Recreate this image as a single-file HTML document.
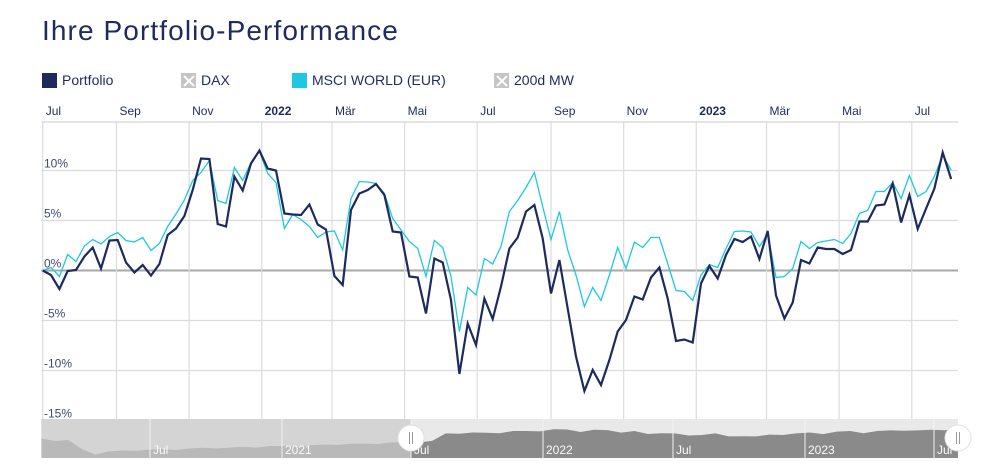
<!DOCTYPE html>
<html><head><meta charset="utf-8">
<style>
html,body{margin:0;padding:0;background:#fff;width:1000px;height:468px;overflow:hidden;font-family:"Liberation Sans",sans-serif;}
#title{position:absolute;left:42px;top:15px;font-size:28px;color:#1e2b5e;letter-spacing:1.1px;margin:0;font-weight:normal;}
.leg{position:absolute;top:72px;font-size:14px;color:#1e2b5e;display:flex;align-items:center;}
.sw{width:15px;height:15px;margin-right:5px;display:inline-block;position:relative;}
.x{background:#c5c5c5;}
.x:before,.x:after{content:"";position:absolute;left:7px;top:1px;width:2px;height:14px;background:#fff;transform:rotate(45deg);}
.x:after{transform:rotate(-45deg);}
svg{position:absolute;left:0;top:0;}
</style></head><body>
<h1 id="title">Ihre Portfolio-Performance</h1>
<div class="leg" style="left:42px"><span class="sw" style="background:#1c2a5e"></span>Portfolio</div>
<div class="leg" style="left:181px"><span class="sw x"></span>DAX</div>
<div class="leg" style="left:292px"><span class="sw" style="background:#1ec8e0"></span>MSCI WORLD (EUR)</div>
<div class="leg" style="left:494px"><span class="sw x"></span>200d MW</div>
<svg id="chart" width="1000" height="468"></svg>
<script>
const portfolio=[0.0,-0.45,-1.85,-0.05,0.05,1.4,2.3,0.2,3.0,3.05,0.8,-0.2,0.55,-0.5,0.65,3.55,4.2,5.45,8.05,11.2,11.15,4.65,4.4,9.4,8.0,10.7,12.0,10.2,10.0,
5.7,5.6,5.55,6.6,4.6,4.1,-0.55,-1.45,6.05,7.7,8.05,8.65,7.55,3.9,3.8,-0.6,-0.7,-4.3,1.2,0.8,-2.95,-10.35,-5.3,-7.45,-2.8,-4.85,-1.6,2.2,
3.3,5.9,6.55,3.2,-2.3,1.05,-3.8,-8.6,-12.05,-9.95,-11.45,-8.95,-6.1,-4.95,-2.6,-2.9,-0.7,0.3,-2.8,-7.05,-6.9,-7.2,-1.3,0.45,-0.8,1.55,3.15,
2.85,3.4,1.15,3.95,-2.5,-4.8,-3.2,1.05,0.7,2.3,2.15,2.15,1.65,2.05,4.9,4.9,6.5,6.6,8.7,4.8,7.55,4.15,6.2,8.2,11.8,9.15];
const msci=[0.0,0.3,-0.6,1.6,0.9,2.45,3.1,2.65,3.4,3.8,3.0,2.85,3.3,2.0,2.7,4.4,5.65,7.05,9.0,9.8,11.0,7.0,6.7,10.3,9.0,10.8,11.95,9.7,8.8,
4.2,5.6,5.1,4.4,3.3,3.85,3.95,2.05,7.2,8.9,8.85,8.7,7.7,5.2,4.05,2.9,2.2,-0.6,3.0,2.3,-0.6,-6.1,-1.7,-2.45,1.2,0.65,2.4,5.9,
7.0,8.3,9.8,6.4,3.1,5.9,2.05,-0.45,-3.6,-1.7,-3.0,-0.45,2.3,0.2,2.85,2.3,3.3,3.3,0.7,-2.0,-2.1,-3.0,-0.45,0.6,0.3,2.2,3.9,
3.95,3.85,2.4,3.7,-0.7,-0.6,0.2,2.9,2.2,2.8,2.95,3.1,2.7,3.7,5.7,6.0,7.9,7.9,8.8,7.2,9.5,7.4,7.9,9.4,11.55,10.05];
const yTicks=[10,5,0,-5,-10,-15];
const yTickLabels=["10%","5%","0%","-5%","-10%","-15%"];
const monthTicks=["2021-07-01","2021-09-01","2021-11-01","2022-01-01","2022-03-01","2022-05-01","2022-07-01","2022-09-01","2022-11-01","2023-01-01","2023-03-01","2023-05-01","2023-07-01"];
const monthLabels=["Jul","Sep","Nov","2022","Mär","Mai","Jul","Sep","Nov","2023","Mär","Mai","Jul"];
const navLabels=["Jul","2021","Jul","2022","Jul","2023","Jul"];
const navTickPos=[150,282,411,543,673,805,934];
const navSeries=[0.55,0.5,0.5,0.2,0.05,0.12,0.15,0.17,0.18,0.2,0.2,0.22,0.24,0.25,0.25,0.27,0.28,0.3,0.3,0.31,0.33,0.35,0.37,0.38,0.38,0.4,0.42,0.43,0.45,0.47,
0.72,0.74,0.75,0.74,0.76,0.8,0.8,0.82,0.86,0.85,0.8,0.84,0.83,0.78,0.8,0.7,0.76,0.72,0.65,0.7,0.72,0.62,0.66,0.62,0.68,0.7,0.72,0.75,0.73,0.78,0.8,0.76,0.8,0.82,0.84,0.82,0.84,0.86,0.88];

const NS="http://www.w3.org/2000/svg";
const svg=document.getElementById('chart');
const L=41.3,R=958,T=122,B=419;
const start=Date.UTC(2021,6,1);
const dayPx=1.1905;
function xDays(d){return L+1.4+d*dayPx;}
function xDate(s){return xDays((Date.parse(s+"T00:00:00Z")-start)/86400000);}
function xIdx(i){return xDays(i*7);}
function yv(v){return 270.5-v*10;}
function mk(tag,attrs){const e=document.createElementNS(NS,tag);for(const k in attrs)e.setAttribute(k,attrs[k]);svg.appendChild(e);return e;}

yTicks.forEach((v,i)=>{
  const l=mk('line',{x1:L,x2:R,y1:yv(v),y2:yv(v),stroke:v===0?'#a8a8a8':'#dcdcdc','stroke-width':v===0?2:1.2});
  
  
  const t=mk('text',{x:44,y:yv(v)-3,'font-size':12,fill:'#3d4a72'});
  t.textContent=yTickLabels[i];
  
  
});
const plotTop=mk('line',{x1:L,x2:R,y1:T,y2:T,stroke:'#dcdcdc','stroke-width':1.5});


monthTicks.forEach((d,i)=>{
  const x=xDate(d);
  const l=mk('line',{x1:x,x2:x,y1:T,y2:B,stroke:'#dcdcdc','stroke-width':1.2});
  
  
  const bold=/^\d{4}$/.test(monthLabels[i]);
  const t=mk('text',{x:x+3,y:115,'font-size':12,fill:'#1e2b5e','font-weight':bold?'bold':'normal'});
  t.textContent=monthLabels[i];
  
  
});
function line(arr,color,w,name){
  const pts=arr.map((v,i)=>xIdx(i).toFixed(1)+','+yv(v).toFixed(1)).join(' ');
  const p=mk('polyline',{points:pts,fill:'none',stroke:color,'stroke-width':w,'stroke-linejoin':'miter'});
  
  
}
line(msci,'#1ec8e0',1.3,'msci-world-line');
line(portfolio,'#1c2a5e',2.2,'portfolio-line');

const NT=419,NB=458,HX=411;
const nb1=mk('rect',{x:L,y:NT,width:HX-L,height:NB-NT,fill:'#d4d4d4'});


const nb2=mk('rect',{x:HX,y:NT,width:R-HX,height:NB-NT,fill:'#e9e9e9'});


function navX(i){return L+i*(R-L)/(navSeries.length-1);}
function navY(v){return 455-v*30;}
let d='M'+L+','+NB;
navSeries.forEach((v,i)=>{d+=' L'+navX(i).toFixed(1)+','+(navY(v)+(i%3===1?1:0)).toFixed(1);});
d+=' L'+R+','+NB+' Z';
const cp1=mk('clipPath',{id:'c1'});cp1.innerHTML='<rect x="'+L+'" y="'+NT+'" width="'+(HX-L)+'" height="40"/>';
const cp2=mk('clipPath',{id:'c2'});cp2.innerHTML='<rect x="'+HX+'" y="'+NT+'" width="'+(R-HX)+'" height="40"/>';
const a1=mk('path',{d:d,fill:'#b9b9b9','clip-path':'url(#c1)'});


const a2=mk('path',{d:d,fill:'#8a8a8a','clip-path':'url(#c2)'});


navTickPos.forEach((x,i)=>{
  const l=mk('line',{x1:x,x2:x,y1:NT,y2:NB,stroke:'#f2f2f2','stroke-width':1});
  
  
  const t=mk('text',{x:x+3,y:454,'font-size':12,fill:'#fafafa'});
  t.textContent=navLabels[i];
  
  
});
[HX,R].forEach((x,i)=>{
  const c=mk('circle',{cx:x,cy:438,r:13,fill:'#fff',stroke:'#e0e0e0','stroke-width':1});
  
  
  const g=mk('path',{d:'M'+(x-1.5)+',432 v12 M'+(x+1.5)+',432 v12',stroke:'#999','stroke-width':1});
  
  
});
</script>
</body></html>
